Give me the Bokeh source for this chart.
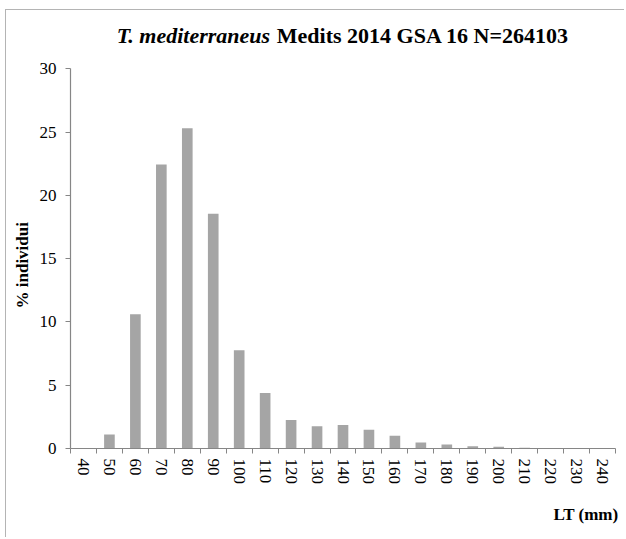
import math
from bokeh.plotting import figure
from bokeh.models import Range1d, FixedTicker, Title, Label
from bokeh.embed import file_html
from bokeh.resources import INLINE

# ---- data ----
lengths = [40, 50, 60, 70, 80, 90, 100, 110, 120, 130, 140, 150, 160, 170, 180, 190, 200, 210, 220, 230, 240]
percent = [0.0, 1.1, 10.6, 22.45, 25.3, 18.55, 7.77, 4.38, 2.25, 1.76, 1.86, 1.49, 1.0, 0.47, 0.31, 0.18, 0.13, 0.06, 0.04, 0.0, 0.0]
y_ticks = [0, 5, 10, 15, 20, 25, 30]
title_italic = "T. mediterraneus"
title_rest = "Medits 2014 GSA 16 N=264103"
y_label = "% individui"
x_label = "LT (mm)"

FONT = "Liberation Serif"
AXIS_COLOR = "#868686"

Y_MAX = 30
Y_TOP = 34.22   # frame extends above the axis so the title can sit inside it

p = figure(width=619, height=528, output_backend="svg", toolbar_location=None,
           x_range=Range1d(35, 245), y_range=Range1d(0, Y_TOP),
           min_border_left=63, min_border_right=10, min_border_top=5, min_border_bottom=88)
p.styles = {"margin-left": "5px", "margin-top": "9px",
            "border-left": "1px solid #b4b4b4", "border-top": "1px solid #b4b4b4"}
p.outline_line_color = None
p.xgrid.visible = False
p.ygrid.visible = False
p.background_fill_color = "white"
p.border_fill_color = "white"

p.vbar(x=lengths, top=percent, width=4.1, fill_color="#a5a5a5", line_color=None)

# x axis: labels at bar centres, ticks between bars (minor ticks)
xa = p.xaxis[0]
xa.ticker = FixedTicker(ticks=lengths, minor_ticks=[v - 5 for v in lengths] + [lengths[-1] + 5])
xa.major_tick_out = 0
xa.major_tick_in = 0
xa.minor_tick_out = 5
xa.minor_tick_in = 0
xa.minor_tick_line_color = AXIS_COLOR
xa.axis_line_color = AXIS_COLOR
xa.axis_line_width = 1.2
xa.major_label_orientation = -math.pi / 2
xa.major_label_text_font = FONT
xa.major_label_text_font_size = "17px"
xa.major_label_text_color = "black"
xa.major_label_standoff = 5

ya = p.yaxis[0]
ya.ticker = FixedTicker(ticks=y_ticks)
ya.bounds = (0, Y_MAX)
ya.major_tick_out = 5
ya.major_tick_in = 0
ya.minor_tick_line_color = None
ya.major_tick_line_color = AXIS_COLOR
ya.axis_line_color = AXIS_COLOR
ya.axis_line_width = 1.2
ya.major_label_text_font = FONT
ya.major_label_text_font_size = "17px"
ya.major_label_text_color = "black"
ya.major_label_standoff = 9

# y axis title (left panel), positioned along the 0-30 axis
p.add_layout(Title(text=y_label, align="left", offset=140, standoff=9, text_font=FONT,
                   text_font_size="17px", text_font_style="bold", text_color="black"), "left")

# title (mixed italic / bold), drawn inside the extended frame
p.add_layout(Label(x=111.9, y=32.6, text=title_italic, text_align="right", text_baseline="alphabetic",
                   text_font=FONT, text_font_size="22px", text_font_style="bold italic", text_color="black"))
p.add_layout(Label(x=114.5, y=32.6, text=title_rest, text_align="left", text_baseline="alphabetic",
                   text_font=FONT, text_font_size="22px", text_font_style="bold", text_color="black"))

# x axis title, right aligned below the axis
p.add_layout(Title(text=x_label, align="right", text_font=FONT, text_font_size="17px",
                   text_font_style="bold", text_color="black", offset=-3, standoff=30), "below")

open("out.html", "w").write(file_html(p, INLINE))
